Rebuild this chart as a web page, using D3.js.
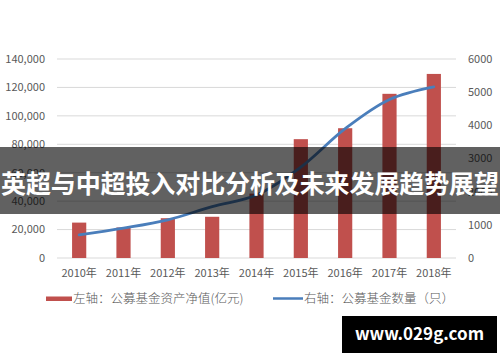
<!DOCTYPE html>
<html>
<head>
<meta charset="utf-8">
<script src="https://cdn.jsdelivr.net/npm/d3@7"></script>
<style>
  body { margin: 0; background: #fff; }
  svg { display: block; font-family: "Noto Sans CJK SC", "Noto Sans", sans-serif; }
</style>
</head>
<body>
<div id="chart"></div>
<script>
/* Bar + line dual axis: fund net assets vs fund count */

const years = ["2010年", "2011年", "2012年", "2013年", "2014年", "2015年", "2016年", "2017年", "2018年"];
const netAssets = [24900, 21500, 28000, 29000, 45300, 83600, 91300, 115500, 129500];
const fundCount = [700, 900, 1150, 1550, 1900, 2740, 3900, 4780, 5160];
const leftTicks = [0, 20000, 40000, 60000, 80000, 100000, 120000, 140000];
const rightTicks = [0, 1000, 2000, 3000, 4000, 5000, 6000];
const legendLabels = ["左轴：公募基金资产净值(亿元)", "右轴：公募基金数量（只）"];
const bannerTitle = "英超与中超投入对比分析及未来发展趋势展望";
const watermark = "www.029g.com";

const width = 500, height = 362;
const margin = { top: 59, right: 44, bottom: 104, left: 57 };

const svg = d3.select("#chart")
    .append("svg")
    .attr("width", width)
    .attr("height", height);

const x = d3.scaleBand()
    .domain(years)
    .range([margin.left, width - margin.right])
    .paddingInner(0.68)
    .paddingOuter(0.34);

const yLeft = d3.scaleLinear().domain([0, 140000]).range([height - margin.bottom, margin.top]);
const yRight = d3.scaleLinear().domain([0, 6000]).range([height - margin.bottom, margin.top]);

// gridlines
svg.append("g")
    .selectAll("line")
    .data(leftTicks)
    .join("line")
    .attr("x1", margin.left)
    .attr("x2", width - margin.right)
    .attr("y1", d => yLeft(d))
    .attr("y2", d => yLeft(d))
    .attr("stroke", "#d9d9d9")
    .attr("stroke-width", 1);

// left axis labels
svg.append("g")
    .attr("font-size", 11)
    .attr("fill", "#595959")
    .attr("text-anchor", "end")
    .selectAll("text")
    .data(leftTicks)
    .join("text")
    .attr("x", 45)
    .attr("y", d => yLeft(d))
    .attr("dy", "0.35em")
    .text(d => d3.format(",")(d));

// right axis labels
svg.append("g")
    .attr("font-size", 11)
    .attr("fill", "#595959")
    .attr("text-anchor", "start")
    .selectAll("text")
    .data(rightTicks)
    .join("text")
    .attr("x", 468)
    .attr("y", d => yRight(d))
    .attr("dy", "0.35em")
    .text(d => d);

// bars
svg.append("g")
    .selectAll("rect")
    .data(netAssets)
    .join("rect")
    .attr("x", (d, i) => x(years[i]))
    .attr("width", x.bandwidth())
    .attr("y", d => yLeft(d))
    .attr("height", d => yLeft(0) - yLeft(d))
    .attr("fill", "#c0504d");

// line
const line = d3.line()
    .x((d, i) => x(years[i]) + x.bandwidth() / 2)
    .y(d => yRight(d))
    .curve(d3.curveCatmullRom.alpha(0.5));

svg.append("path")
    .datum(fundCount)
    .attr("d", line)
    .attr("fill", "none")
    .attr("stroke", "#4a7ebb")
    .attr("stroke-width", 2.8)
    .attr("stroke-linecap", "round");

// x labels
svg.append("g")
    .attr("font-size", 11)
    .attr("fill", "#595959")
    .attr("text-anchor", "middle")
    .selectAll("text")
    .data(years)
    .join("text")
    .attr("x", d => x(d) + x.bandwidth() / 2)
    .attr("y", 277)
    .text(d => d);

// legend
const legend = svg.append("g").attr("font-size", 12.5).attr("fill", "#595959");
legend.append("rect")
    .attr("x", 46).attr("y", 296.5)
    .attr("width", 26).attr("height", 4.5)
    .attr("fill", "#c0504d");
legend.append("text")
    .attr("x", 73).attr("y", 298.5).attr("dy", "0.35em")
    .attr("font-weight", 300)
    .text(legendLabels[0]);
legend.append("line")
    .attr("x1", 273).attr("x2", 303)
    .attr("y1", 298.5).attr("y2", 298.5)
    .attr("stroke", "#4a7ebb").attr("stroke-width", 2.5);
legend.append("text")
    .attr("x", 304).attr("y", 298.5).attr("dy", "0.35em")
    .attr("font-weight", 300)
    .text(legendLabels[1]);

// banner overlay
svg.append("rect")
    .attr("x", 0).attr("y", 147)
    .attr("width", width).attr("height", 67)
    .attr("fill", "rgba(0,0,0,0.62)");
svg.append("text")
    .attr("x", width / 2).attr("y", 184)
    .attr("dy", "0.35em")
    .attr("text-anchor", "middle")
    .attr("font-size", 25)
    .attr("font-weight", 700)
    .attr("fill", "#fff")
    .attr("textLength", 498)
    .text(bannerTitle);

// watermark box
svg.append("rect")
    .attr("x", 342).attr("y", 316)
    .attr("width", 155).attr("height", 37)
    .attr("fill", "#000");
svg.append("text")
    .attr("x", 419.5).attr("y", 334.5)
    .attr("dy", "0.35em")
    .attr("text-anchor", "middle")
    .attr("font-size", 17)
    .attr("font-weight", 700)
    .attr("fill", "#fff")
    .text(watermark);
</script>
</body>
</html>
